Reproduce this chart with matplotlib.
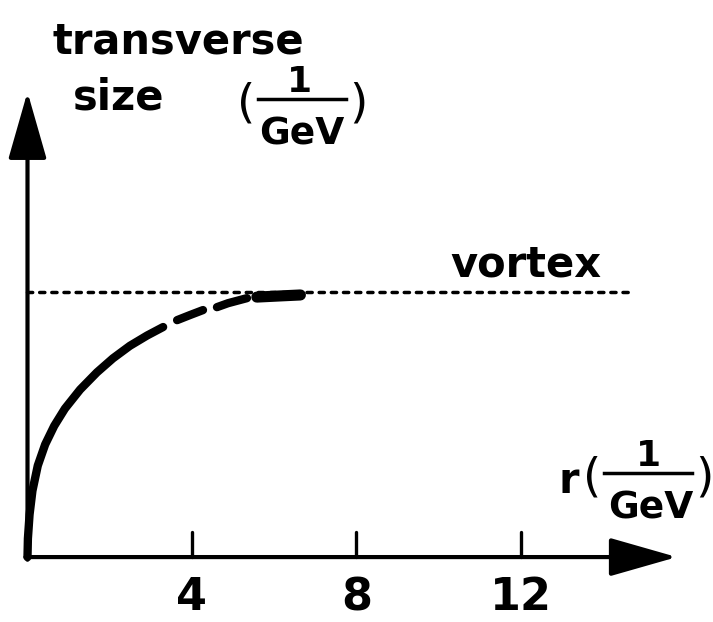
import numpy as np
import matplotlib
matplotlib.use('Agg')
from matplotlib import pyplot as plt

# transverse size vs r
r_solid = [0.0, 0.01, 0.05, 0.12, 0.25, 0.43, 0.65, 0.91, 1.28, 1.69,
           2.08, 2.49, 2.91, 3.30]
size_solid = [0.0, 0.07, 0.16, 0.25, 0.345, 0.425, 0.495, 0.560, 0.632, 0.697,
              0.750, 0.797, 0.836, 0.868]
r_dash1 = [3.64, 3.95, 4.27]
size_dash1 = [0.894, 0.913, 0.932]
r_dash2 = [4.61, 4.88, 5.17, 5.34]
size_dash2 = [0.943, 0.958, 0.970, 0.977]
r_end = [5.58, 6.10, 6.64]
size_end = [0.981, 0.985, 0.989]

vortex_level = 1.0
vortex_r_max = 14.6
xticks = [4, 8, 12]
xtick_labels = ['4', '8', '12']

plt.rcParams['font.family'] = ['DejaVu Sans']
plt.rcParams['font.weight'] = 'bold'

fig = plt.figure(figsize=(7.13, 6.22), dpi=100)
ax = fig.add_axes([0, 0, 1, 1])
ax.set_xlim(-0.669, 16.679)
ax.set_ylim(-0.245, 2.102)
ax.axis('off')

# axes drawn as arrows
arrow = dict(arrowstyle='-|>,head_length=0.7,head_width=0.2', mutation_scale=60,
             lw=3, color='black', shrinkA=0, shrinkB=0)
ax.annotate('', xy=(15.8, 0), xytext=(-0.05, 0), arrowprops=arrow)
ax.annotate('', xy=(0, 1.755), xytext=(0, -0.01), arrowprops=arrow)

for t, lab in zip(xticks, xtick_labels):
    ax.plot([t, t], [0, 0.094], c='black', lw=2.4, solid_capstyle='round')
    ax.text(t, -0.2, lab, fontsize=32, ha='center', va='baseline')

# vortex level (dotted)
ax.plot([0, vortex_r_max], [vortex_level, vortex_level], c='black', lw=2.5,
        linestyle=(0, (1.5, 2.0)), dash_capstyle='round')
ax.text(10.28, 1.057, 'vortex', fontsize=30, ha='left', va='baseline')

# the curve: solid, two dashes, heavy end piece
ax.plot(r_solid, size_solid, c='black', lw=6, solid_capstyle='round', solid_joinstyle='round')
ax.plot(r_dash1, size_dash1, c='black', lw=6, solid_capstyle='round', solid_joinstyle='round')
ax.plot(r_dash2, size_dash2, c='black', lw=6, solid_capstyle='round', solid_joinstyle='round')
ax.plot(r_end, size_end, c='black', lw=8, solid_capstyle='round', solid_joinstyle='round')

# y label
ax.text(0.62, 1.902, 'transverse', fontsize=30, ha='left', va='baseline')
ax.text(1.11, 1.687, 'size', fontsize=30, ha='left', va='baseline')


def unit(xl, xr, xc, ybar):
    # (1/GeV) written as a small fraction in parentheses
    ax.text(xl, ybar - 0.02, '(', fontsize=34, fontweight='normal', ha='center', va='center')
    ax.text(xr, ybar - 0.02, ')', fontsize=34, fontweight='normal', ha='center', va='center')
    ax.text(xc, ybar + 0.027, '1', fontsize=26, ha='center', va='baseline')
    ax.plot([xl + 0.3, xr - 0.3], [ybar, ybar], c='black', lw=2.5)
    ax.text(xc + 0.05, ybar - 0.173, 'GeV', fontsize=27, ha='center', va='baseline')


unit(5.32, 8.05, 6.62, 1.728)
ax.text(12.91, 0.242, 'r', fontsize=30, ha='left', va='baseline')
unit(13.73, 16.47, 15.12, 0.317)

plt.savefig('out.png', dpi=100)
